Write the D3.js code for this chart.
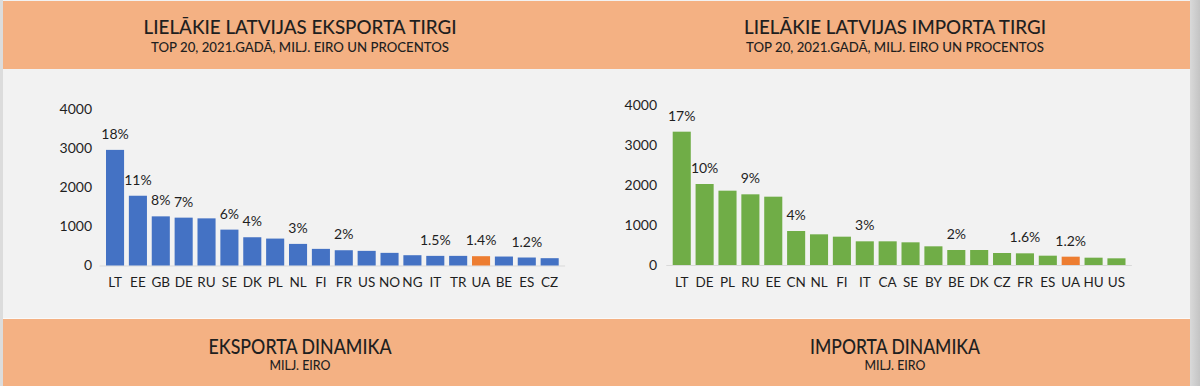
<!DOCTYPE html>
<html><head><meta charset="utf-8">
<script src="https://cdn.jsdelivr.net/npm/d3@7"></script>
<style>
html,body{margin:0;padding:0;background:#fff;}
svg{display:block;}
</style></head>
<body>
<svg id="c" width="1200" height="386"></svg>
<script>
// ---- data ----
const exportCountries = ["LT","EE","GB","DE","RU","SE","DK","PL","NL","FI","FR","US","NO","NG","IT","TR","UA","BE","ES","CZ"];
const exportValues   = [2955,1783,1256,1223,1205,917,722,688,552,425,390,374,323,263,246,246,238,229,204,187];
const exportLabels   = ["18%","11%","8%","7%","","6%","4%","","3%","","2%","","","","1.5%","","1.4%","","1.2%",""];

const importCountries = ["LT","DE","PL","RU","EE","CN","NL","FI","IT","CA","SE","BY","BE","DK","CZ","FR","ES","UA","HU","US"];
const importValues    = [3333,2025,1858,1767,1708,850,767,708,592,592,567,467,375,375,300,292,233,208,183,167];
const importLabels    = ["17%","10%","","9%","","4%","","","3%","","","","2%","","","1.6%","","1.2%","",""];

const yTicks = [0,1000,2000,3000,4000];
const highlight = "UA";

const titles = {
  export: {title:"LIELĀKIE LATVIJAS EKSPORTA TIRGI", sub:"TOP 20, 2021.GADĀ, MILJ. EIRO UN PROCENTOS", bottom:"EKSPORTA DINAMIKA", bottomSub:"MILJ. EIRO"},
  import: {title:"LIELĀKIE LATVIJAS IMPORTA TIRGI", sub:"TOP 20, 2021.GADĀ, MILJ. EIRO UN PROCENTOS", bottom:"IMPORTA DINAMIKA", bottomSub:"MILJ. EIRO"}
};

// ---- drawing ----
const svg = d3.select("#c");
const ORANGE_BAND = "#F4B183";
const GREY_BG = "#F2F2F2";
const TXT = "#1f1f1f";
const FONT = "Lato, 'Open Sans', sans-serif";

// page frame
svg.append("rect").attr("x",0).attr("y",0).attr("width",1200).attr("height",386).attr("fill","#dcdcdc");
svg.append("rect").attr("x",3).attr("y",0).attr("width",1187).attr("height",386).attr("fill",GREY_BG);
const grad = svg.append("defs").append("linearGradient").attr("id","rg").attr("x1","0").attr("x2","1");
grad.append("stop").attr("offset","0").attr("stop-color","#d9d9d9");
grad.append("stop").attr("offset","1").attr("stop-color","#c4c4c4");
svg.append("rect").attr("x",1190).attr("y",0).attr("width",10).attr("height",386).attr("fill","url(#rg)");
svg.append("rect").attr("x",3).attr("y",1).attr("width",1187).attr("height",68).attr("fill",ORANGE_BAND);
svg.append("rect").attr("x",3).attr("y",319).attr("width",1187).attr("height",67).attr("fill",ORANGE_BAND);
svg.append("line").attr("x1",3).attr("x2",1190).attr("y1",318.5).attr("y2",318.5).attr("stroke","#fafafa").attr("stroke-width",1);

function titleText(cx, y, text, size, len, weight){
  svg.append("text").attr("x",cx).attr("y",y).attr("text-anchor","middle")
    .attr("font-family",FONT).attr("font-size",size).attr("font-weight",weight||400).attr("fill",TXT)
    .attr("textLength",len).attr("lengthAdjust","spacingAndGlyphs").text(text);
}

function panel(cfg){
  const x = d3.scaleBand().domain(cfg.cats).range(cfg.xr).paddingInner(0.21).paddingOuter(0.105);
  const y = d3.scaleLinear().domain([0,4000]).range(cfg.yr);
  const g = svg.append("g");

  // baseline
  g.append("line").attr("x1",cfg.xr[0]-4).attr("x2",cfg.xr[1]+4)
    .attr("y1",y(0)+0.5).attr("y2",y(0)+0.5).attr("stroke","#d9d9d9").attr("stroke-width",1);

  g.selectAll("rect.bar").data(cfg.cats).join("rect").attr("class","bar")
    .attr("x",d=>x(d)).attr("width",x.bandwidth())
    .attr("y",(d,i)=>y(cfg.vals[i])).attr("height",(d,i)=>y(0)-y(cfg.vals[i]))
    .attr("fill",d=>d===highlight?"#ED7D31":cfg.color);

  g.selectAll("text.pct").data(cfg.cats).join("text").attr("class","pct")
    .attr("x",d=>x(d)+x.bandwidth()/2).attr("y",(d,i)=>y(cfg.vals[i])-11)
    .attr("text-anchor","middle").attr("font-family",FONT).attr("font-size",14).attr("fill",TXT)
    .text((d,i)=>cfg.labels[i]);

  const ya = d3.axisLeft(y).tickValues(yTicks).tickSize(0).tickPadding(0).tickFormat(d3.format("d"));
  const yg = g.append("g").attr("transform",`translate(${cfg.yAxisX},0)`).call(ya);
  yg.select(".domain").remove();
  yg.selectAll("text").attr("font-family",FONT).attr("font-size",14).attr("fill",TXT);

  const xa = d3.axisBottom(x).tickSize(0).tickPadding(12);
  const xg = g.append("g").attr("transform",`translate(0,${y(0)})`).call(xa);
  xg.select(".domain").remove();
  xg.selectAll("text").attr("font-family",FONT).attr("font-size",13.5).attr("fill",TXT);

  titleText(cfg.cx, 34, cfg.t.title, 19.5, cfg.tlen, 500);
  titleText(cfg.cx, 52, cfg.t.sub, 13.5, 298, 500);
  titleText(cfg.cx, 353.5, cfg.t.bottom, 21, cfg.blen, 500);
  titleText(cfg.cx, 370, cfg.t.bottomSub, 13.5, 61, 500);
}

panel({cats:exportCountries, vals:exportValues, labels:exportLabels, color:"#4472C4",
  xr:[103.6,561.1], yr:[265.5,109], yAxisX:92, cx:300, t:titles.export, tlen:313, blen:183});
panel({cats:importCountries, vals:importValues, labels:importLabels, color:"#70AD47",
  xr:[670.3,1127.9], yr:[265,105], yAxisX:657, cx:895, t:titles.import, tlen:302, blen:170});
</script>
</body></html>
